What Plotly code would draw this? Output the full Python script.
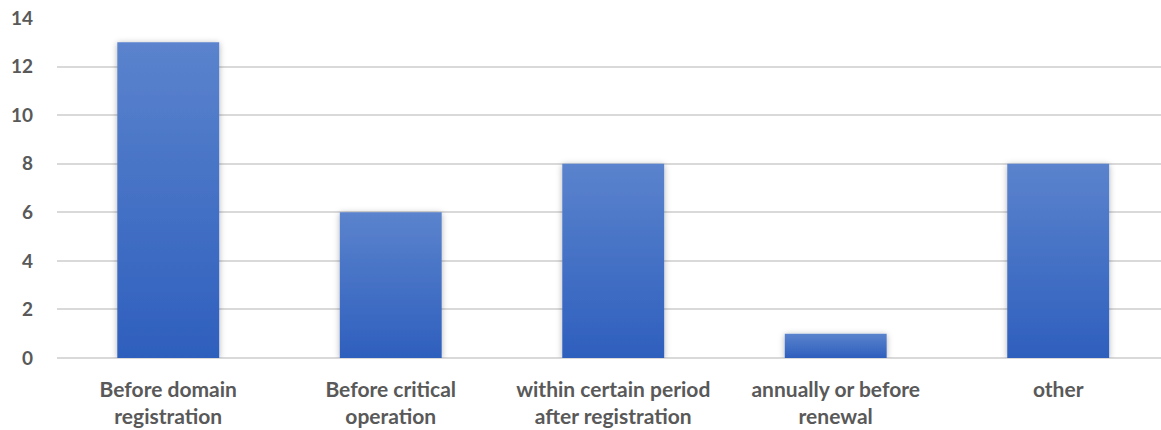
import plotly.graph_objects as go

categories = [
    "Before domain<br>registration",
    "Before critical<br>operation",
    "within certain period<br>after registration",
    "annually or before<br>renewal",
    "other",
]
values = [13, 6, 8, 1, 8]
y_ticks = [0, 2, 4, 6, 8, 10, 12, 14]

fig = go.Figure()
fig.add_trace(go.Bar(
    x=list(range(len(categories))),
    y=values,
    width=0.458,
    marker=dict(color="#4472c4", line=dict(width=0)),
    hoverinfo="skip",
))

font_family = "Lato, 'Liberation Sans', sans-serif"
fig.update_layout(
    width=1161, height=430,
    margin=dict(l=57, r=0, t=18, b=72),
    paper_bgcolor="white", plot_bgcolor="white",
    showlegend=False,
    font=dict(family=font_family, size=19, color="#595959", weight="bold"),
)
fig.update_xaxes(
    tickmode="array",
    tickvals=list(range(len(categories))),
    ticktext=categories,
    range=[-0.5, 4.462],
    showgrid=False, zeroline=False, showline=False,
    ticks="", ticklabelstandoff=17,
    tickfont=dict(family=font_family, size=21, color="#595959", weight="bold"),
)
fig.update_yaxes(
    range=[0, 14],
    tickmode="array", tickvals=y_ticks,
    showgrid=True, gridcolor="#d9d9d9", gridwidth=1.5,
    zeroline=True, zerolinecolor="#d9d9d9", zerolinewidth=1.5,
    showline=False, ticks="", ticklabelstandoff=23,
    tickfont=dict(family=font_family, size=19, color="#595959", weight="bold"),
)

post = """
document.body.style.margin = '0';
document.body.style.padding = '0';
var gd = document.getElementById('{plot_id}');
var NS = 'http://www.w3.org/2000/svg';
function applyGrad(){
  var svg = gd.querySelector('svg.main-svg');
  if(!svg) return;
  var defs = svg.querySelector('defs');
  if(!defs){ defs = document.createElementNS(NS,'defs'); svg.insertBefore(defs, svg.firstChild); }
  if(!document.getElementById('bargrad')){
    var g = document.createElementNS(NS,'linearGradient');
    g.setAttribute('id','bargrad'); g.setAttribute('x1','0'); g.setAttribute('y1','0');
    g.setAttribute('x2','0'); g.setAttribute('y2','1');
    var s1 = document.createElementNS(NS,'stop'); s1.setAttribute('offset','0'); s1.setAttribute('stop-color','#5b83cd');
    var s2 = document.createElementNS(NS,'stop'); s2.setAttribute('offset','1'); s2.setAttribute('stop-color','#2e5fbd');
    g.appendChild(s1); g.appendChild(s2); defs.appendChild(g);
    var f = document.createElementNS(NS,'filter');
    f.setAttribute('id','barshadow'); f.setAttribute('x','-20%'); f.setAttribute('y','-20%');
    f.setAttribute('width','140%'); f.setAttribute('height','140%');
    var d = document.createElementNS(NS,'feDropShadow');
    d.setAttribute('dx','0'); d.setAttribute('dy','1'); d.setAttribute('stdDeviation','3');
    d.setAttribute('flood-color','#000'); d.setAttribute('flood-opacity','0.3');
    f.appendChild(d); defs.appendChild(f);
  }
  gd.querySelectorAll('.barlayer .point path').forEach(function(p){
    p.style.fill = 'url(#bargrad)';
    p.setAttribute('filter','url(#barshadow)');
  });
}
applyGrad();
gd.on('plotly_afterplot', applyGrad);
"""

fig.write_html("out.html", post_script=post, config={"displayModeBar": False})
